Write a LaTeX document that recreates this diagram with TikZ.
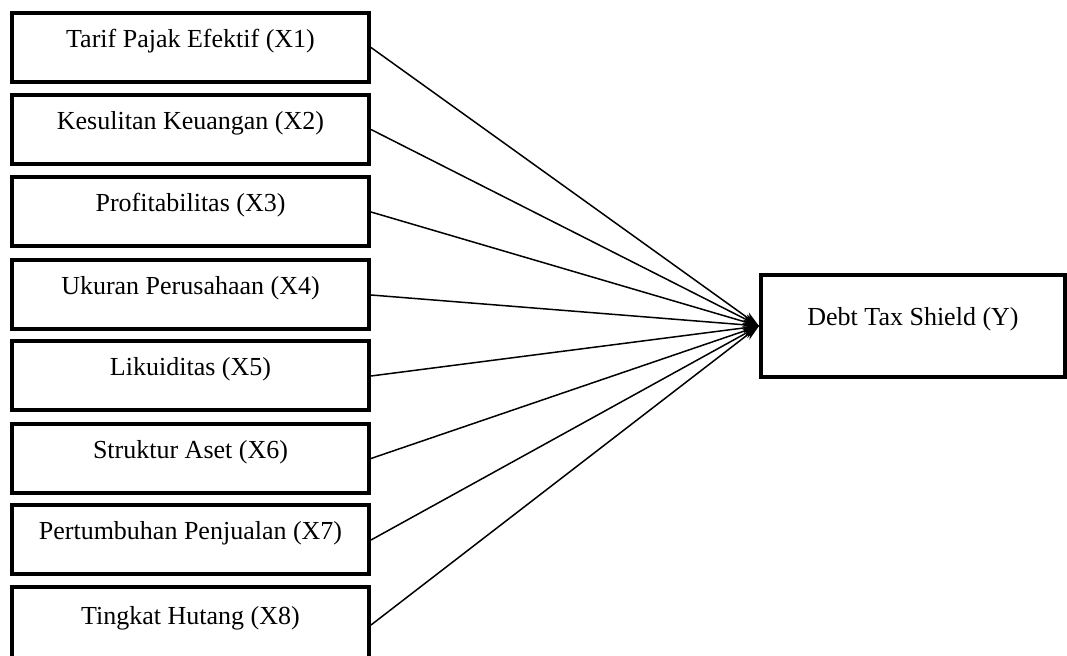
\documentclass[tikz,border=0pt]{standalone}
\usepackage{fontspec}
\setmainfont{Liberation Serif}
\usetikzlibrary{arrows.meta}
\begin{document}
\begin{tikzpicture}[
		x=0.5pt, y=-0.5pt,
		font=\fontsize{13}{15}\selectfont,
		varbox/.style={draw, line width=2pt, minimum width=178.5pt, minimum height=34.5pt, text height=9pt, text depth=9pt},
		depbox/.style={draw, line width=2pt, minimum width=152pt, minimum height=51pt, text height=9pt, text depth=9pt},
		link/.style={-{Stealth[length=8pt,width=5pt]}, line width=0.75pt}
	]
	\useasboundingbox (0,0) rectangle (1067,656);
	\node[varbox] (x1) at (190.5,47.5) {Tarif Pajak Efektif (X1)};
	\node[varbox] (x2) at (190.5,129.5) {Kesulitan Keuangan (X2)};
	\node[varbox] (x3) at (190.5,212) {Profitabilitas (X3)};
	\node[varbox] (x4) at (190.5,295) {Ukuran Perusahaan (X4)};
	\node[varbox] (x5) at (190.5,376) {Likuiditas (X5)};
	\node[varbox] (x6) at (190.5,458.5) {Struktur Aset (X6)};
	\node[varbox] (x7) at (190.5,540) {Pertumbuhan Penjualan (X7)};
	\node[varbox, minimum height=38pt] (x8) at (190.5,625) {Tingkat Hutang (X8)};
	\node[depbox] (y) at (913,326) {Debt Tax Shield (Y)};
	\draw[link] (x1.east) -- (y.west);
	\draw[link] (x2.east) -- (y.west);
	\draw[link] (x3.east) -- (y.west);
	\draw[link] (x4.east) -- (y.west);
	\draw[link] (x5.east) -- (y.west);
	\draw[link] (x6.east) -- (y.west);
	\draw[link] (x7.east) -- (y.west);
	\draw[link] (x8.east) -- (y.west);
\end{tikzpicture}
\end{document}
